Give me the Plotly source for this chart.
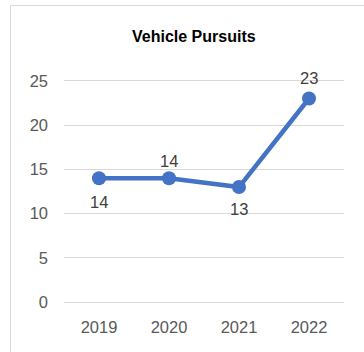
import plotly.graph_objects as go

# Annual vehicle pursuit counts
years = ["2019", "2020", "2021", "2022"]
pursuits = [14, 14, 13, 23]
label_shifts = [-24, 17, -22, 20]  # label offset in px (negative = below the point)
y_ticks = [0, 5, 10, 15, 20, 25]

LINE_BLUE = "#4472C4"
GRID = "#D9D9D9"
TICK_GREY = "#595959"
FONT = "Liberation Sans"

fig = go.Figure()
fig.add_trace(go.Scatter(
    x=years,
    y=pursuits,
    mode="lines+markers",
    line=dict(color=LINE_BLUE, width=4.5),
    marker=dict(color=LINE_BLUE, size=14),
    cliponaxis=False,
    hoverinfo="x+y",
))

# Value labels next to each point (category index on the x axis)
for i, (v, dy) in enumerate(zip(pursuits, label_shifts)):
    fig.add_annotation(
        x=i, y=v, text=str(v), showarrow=False, yshift=dy,
        xanchor="center", yanchor="middle",
        font=dict(family=FONT, size=16.5, color="#404040"),
    )

W, H = 364, 352
L, R, T, B = 64, 20, 79, 48
pw, ph = W - L - R, H - T - B

# Chart-area border (light grey frame)
fig.add_shape(
    type="rect", xref="paper", yref="paper",
    x0=(10.5 - L) / pw, x1=(W + 5 - L) / pw,
    y0=-(B + 5) / ph, y1=1 + (T - 5.5) / ph,
    line=dict(color=GRID, width=1), fillcolor="rgba(0,0,0,0)", layer="below",
)

fig.add_annotation(
    text="<b>Vehicle Pursuits</b>", xref="paper", yref="paper",
    x=(194 - L) / pw, y=1 + (T - 37) / ph, xanchor="center", yanchor="middle",
    showarrow=False, font=dict(family=FONT, size=16, color="#000000"),
)

fig.update_layout(
    width=W, height=H,
    margin=dict(l=L, r=R, t=T, b=B, pad=0),
    paper_bgcolor="white", plot_bgcolor="white",
    showlegend=False,
    font=dict(family=FONT, size=16.5, color=TICK_GREY),
)
fig.update_xaxes(
    type="category", range=[-0.5, 3.5],
    showgrid=False, zeroline=False, showline=False,
    ticks="", ticklabelstandoff=11,
    tickfont=dict(family=FONT, size=16.5, color=TICK_GREY),
)
fig.update_yaxes(
    range=[-0.2, 25.2], tickvals=y_ticks,
    showgrid=True, gridcolor=GRID, gridwidth=1,
    zeroline=False, showline=False, ticks="",
    ticklabelstandoff=15,
    tickfont=dict(family=FONT, size=16.5, color=TICK_GREY),
)

fig.write_html("out.html")
